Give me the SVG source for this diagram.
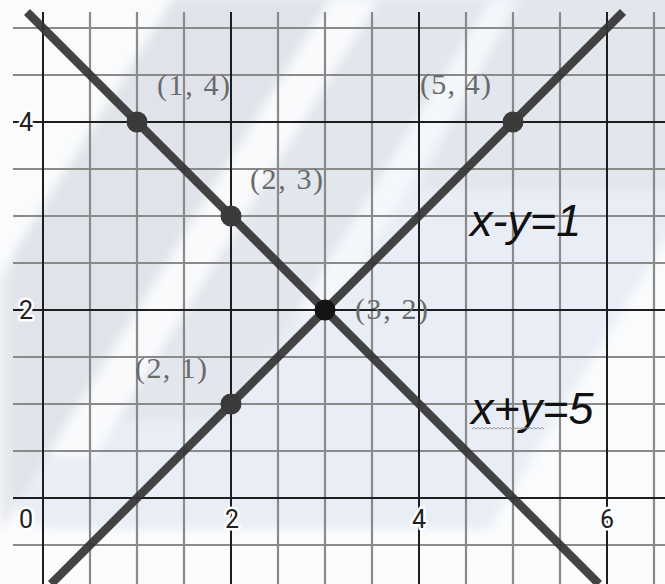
<svg xmlns="http://www.w3.org/2000/svg" width="665" height="584" viewBox="0 0 665 584">
<style>
.g{stroke:#8a8a8a;stroke-width:2.2;fill:none}
.d{stroke:#1e1e1e;stroke-width:2;fill:none}
.ln{stroke:#333;stroke-width:8.5;stroke-opacity:0.92;fill:none}
.pt{fill:#3a3a3a}
.ax{font-family:Roboto,"Liberation Sans",sans-serif;font-size:25px;fill:#222;stroke:#fff;stroke-width:5;paint-order:stroke;stroke-linejoin:round}
.pl{font-family:"Liberation Serif","DejaVu Serif",serif;font-size:30px;fill:#6a6a6a}
.eq{font-family:"Liberation Sans",Arial,sans-serif;font-size:45px;font-style:italic;fill:#111}
</style>
<defs>
<filter id="soft" x="-10%" y="-10%" width="120%" height="120%"><feGaussianBlur stdDeviation="5"/></filter>
</defs>
<rect x="0" y="0" width="665" height="584" fill="#fbfcfd"/>
<g id="background" filter="url(#soft)">
<rect x="13" y="-40" width="690" height="570" rx="45" fill="#e9eef6"/>
<polygon points="-20,-20 185,-20 -20,305" fill="#fbfcfd" opacity="0.9"/>
<polygon points="172,0 330,0 0,532 0,277" fill="#dcdee3" opacity="0.65"/>
<polygon points="330,0 378,0 95,456 47,456" fill="#ffffff" opacity="0.7"/>
<polygon points="378,0 490,0 230,420 118,420" fill="#dcdee3" opacity="0.5"/>
<polygon points="490,0 525,0 330,315 295,315" fill="#ffffff" opacity="0.5"/>
<polygon points="525,-20 690,-20 690,190 420,190" fill="#dcdee3" opacity="0.5"/>
<polygon points="690,200 690,600 445,600" fill="#fbfcfd" opacity="0.9"/>
</g>
<g id="grid">
<path class="g" d="M90,12V584M184,12V584M278,12V584M372,12V584M466,12V584M560,12V584M654,12V584M137,12V584M325,12V584M513,12V584"/>
<path class="g" d="M13,28H665M13,75H665M13,169H665M13,216H665M13,263H665M13,357H665M13,404H665M13,451H665M13,545H665"/>
<path class="d" d="M43,12V584M231,12V584M419,12V584M607,12V584M13,122H665M13,310H665M13,498H665"/>
</g>
<g id="axis-labels">
<text class="ax" x="26" y="131" text-anchor="middle">4</text>
<text class="ax" x="26" y="319" text-anchor="middle">2</text>
<text class="ax" x="26" y="528" text-anchor="middle">0</text>
<text class="ax" x="232" y="528" text-anchor="middle">2</text>
<text class="ax" x="419" y="528" text-anchor="middle">4</text>
<text class="ax" x="607" y="528" text-anchor="middle">6</text>
</g>
<g id="connectors">
<line id="line-x-plus-y" class="ln" x1="27" y1="12" x2="599" y2="584"/>
<line id="line-x-minus-y" class="ln" x1="51" y1="584" x2="623" y2="12"/>
</g>
<g id="p14"><circle class="pt" cx="137" cy="122" r="10.5"/><text class="pl" x="157" y="95" textLength="73">(1, 4)</text></g>
<g id="p54"><circle class="pt" cx="513" cy="122" r="10.5"/><text class="pl" x="420" y="94" textLength="71">(5, 4)</text></g>
<g id="p23"><circle class="pt" cx="231" cy="216" r="10.5"/><text class="pl" x="250" y="189" textLength="73">(2, 3)</text></g>
<g id="p32"><circle cx="325" cy="310" r="10.5" fill="#141414"/><text class="pl" x="355" y="319" textLength="73">(3, 2)</text></g>
<g id="p21"><circle class="pt" cx="231" cy="404" r="10.5"/><text class="pl" x="135" y="378" textLength="72">(2, 1)</text></g>
<g id="eq1"><text class="eq" x="470" y="236">x-y=1</text></g>
<g id="eq2"><text class="eq" x="471" y="424">x+y=5</text>
<path d="M472,429 l2,-1.5 l2,1.5 l2,-1.5 l2,1.5 l2,-1.5 l2,1.5 l2,-1.5 l2,1.5 l2,-1.5 l2,1.5 l2,-1.5 l2,1.5 l2,-1.5 l2,1.5 l2,-1.5 l2,1.5 l2,-1.5 l2,1.5 l2,-1.5 l2,1.5 l2,-1.5 l2,1.5 l2,-1.5 l2,1.5 l2,-1.5 l2,1.5 l2,-1.5 l2,1.5 l2,-1.5 l2,1.5 l2,-1.5 l2,1.5 l2,-1.5 l2,1.5 l2,-1.5 l2,1.5" fill="none" stroke="#999" stroke-width="1"/></g>
</svg>
